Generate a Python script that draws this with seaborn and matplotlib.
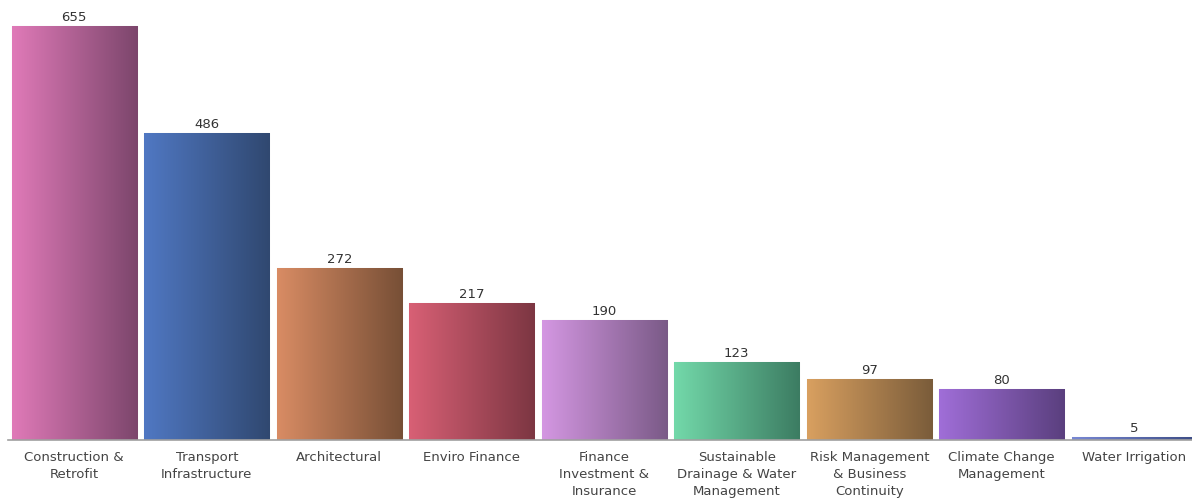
import numpy as np
import pandas as pd
import matplotlib
matplotlib.use("Agg")
import matplotlib.pyplot as plt
import seaborn as sns

categories = [
    "Construction &\nRetrofit",
    "Transport\nInfrastructure",
    "Architectural",
    "Enviro Finance",
    "Finance\nInvestment &\nInsurance",
    "Sustainable\nDrainage & Water\nManagement",
    "Risk Management\n& Business\nContinuity",
    "Climate Change\nManagement",
    "Water Irrigation",
]
counts = [655, 486, 272, 217, 190, 123, 97, 80, 5]

# left (light) and right (dark) ends of each bar's horizontal gradient
light_colors = ["#E07AB8", "#5078C3", "#D98C64", "#D86075", "#D497E2",
                "#73D9AA", "#D9A060", "#A06ED8", "#7888D4"]
dark_colors = ["#7C466C", "#304870", "#774F36", "#7C3642", "#7A5A87",
               "#3C7C62", "#7A5C3A", "#5A3F7E", "#3C4C84"]

sns.set_theme(style="white")
plt.rcParams["font.family"] = ["DejaVu Sans"]

df = pd.DataFrame({"category": categories, "count": counts})

W, H = 1192, 498
fig = plt.figure(figsize=(W / 100, H / 100), dpi=100)
# the plotting area runs slightly past the right edge, so the last bar is cut
ax = fig.add_axes([8 / W, 1 - 440 / H, 1192.5 / W, 440 / H])

sns.barplot(data=df, x="category", y="count", hue="category",
            palette=light_colors, width=0.945, legend=False, ax=ax,
            saturation=1)

ax.set_ylim(0, 696)
ax.set_xlim(-0.5, len(categories) - 0.5)

# paint each bar with a left-to-right gradient clipped to the bar
for patch, c0, c1 in zip(ax.patches, light_colors, dark_colors):
    x0, y0 = patch.get_x(), patch.get_y()
    w, h = patch.get_width(), patch.get_height()
    a = np.array(matplotlib.colors.to_rgb(c0))
    b = np.array(matplotlib.colors.to_rgb(c1))
    t = np.linspace(0, 1, 256)[None, :, None]
    grad = a[None, None, :] * (1 - t) + b[None, None, :] * t
    im = ax.imshow(grad, extent=[x0, x0 + w, y0, y0 + h], aspect="auto",
                   origin="lower", zorder=patch.get_zorder() + 0.1,
                   interpolation="bilinear")
    im.set_clip_path(patch)
    patch.set_edgecolor("#d8d8d8")
    patch.set_linewidth(0.8)
    ax.annotate(f"{patch.get_height():.0f}",
                (x0 + w / 2, y0 + h), xytext=(0, 1.5),
                textcoords="offset points", ha="center", va="bottom",
                fontsize=9.5, color="#333333", zorder=5)

ax.set_aspect("auto")
ax.set_xlabel("")
ax.set_ylabel("")
ax.set_yticks([])
ax.tick_params(axis="x", length=0, pad=8, labelsize=9.5, labelcolor="#444444")
for lbl in ax.get_xticklabels():
    lbl.set_linespacing(1.4)
for s in ["top", "right", "left"]:
    ax.spines[s].set_visible(False)
ax.spines["bottom"].set_color("#a0a0a0")
ax.spines["bottom"].set_linewidth(1.2)

fig.savefig("out.png", dpi=100)
